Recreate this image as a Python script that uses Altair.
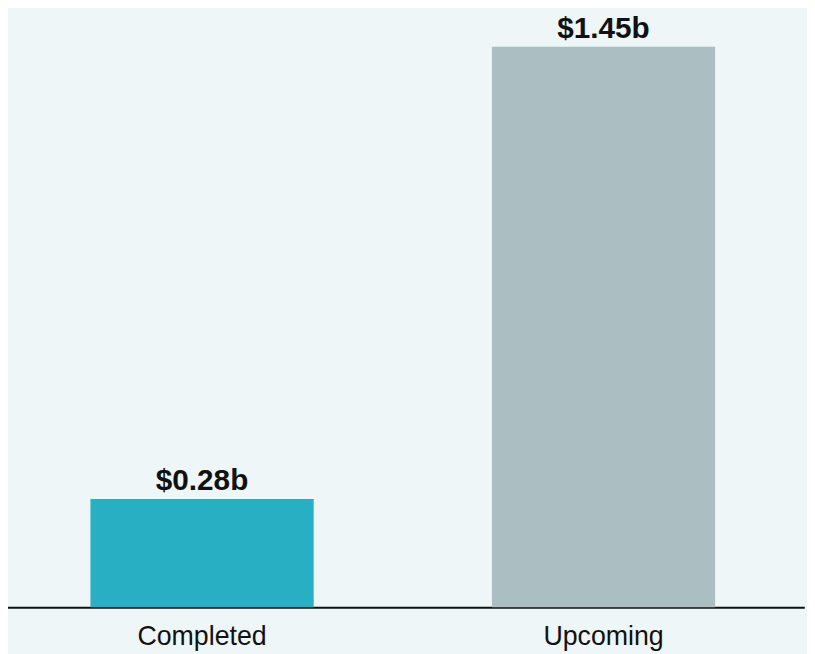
import altair as alt
import pandas as pd

categories = ["Completed", "Upcoming"]
values = [0.28, 1.45]
labels = ["$0.28b", "$1.45b"]
bar_colors = ["#29afc4", "#abbfc3"]

df = pd.DataFrame({"category": categories, "value": values, "label": labels})

x_enc = alt.X(
    "category:N",
    sort=categories,
    title=None,
    scale=alt.Scale(range=[-6.75, 804.25], paddingInner=0.444, paddingOuter=0.222),
    axis=alt.Axis(
        labelAngle=0,
        labelFont="Liberation Sans",
        labelFontSize=27,
        labelColor="#111111",
        labelPadding=38,
        labelBaseline="alphabetic",
        ticks=False,
        tickSize=0,
        domain=True,
        domainColor="#111111",
        domainWidth=2,
        grid=False,
    ),
)
y_enc = alt.Y(
    "value:Q",
    title=None,
    scale=alt.Scale(domain=[0, 1.542], nice=False, zero=True),
    axis=None,
)

base = alt.Chart(df).encode(x=x_enc, y=y_enc)

bars = base.mark_bar().encode(
    color=alt.Color(
        "category:N",
        scale=alt.Scale(domain=categories, range=bar_colors),
        legend=None,
    )
)

text = base.mark_text(
    dy=-9,
    baseline="alphabetic",
    align="center",
    font="Liberation Sans",
    fontSize=30,
    fontWeight="bold",
    color="#111111",
).encode(text="label:N")

chart = (
    alt.layer(bars, text)
    .properties(
        width=807,
        height=602,
        autosize=alt.AutoSizeParams(type="none"),
        padding={"left": 0, "top": 0, "right": 0, "bottom": 44},
        background="#eef6f8",
    )
    .configure_view(stroke=None)
)

chart.save("out.html", embed_options={"renderer": "svg", "actions": False})
